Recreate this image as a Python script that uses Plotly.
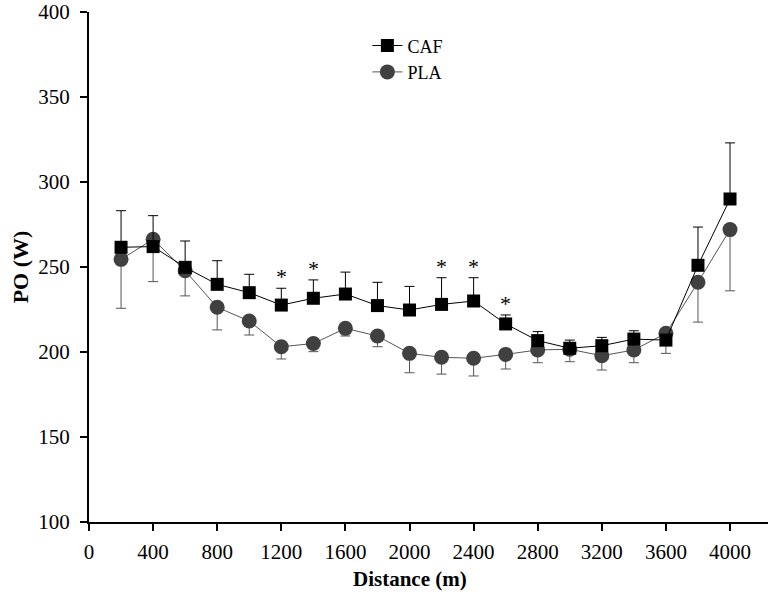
import plotly.graph_objects as go

distance = [200, 400, 600, 800, 1000, 1200, 1400, 1600, 1800, 2000,
            2200, 2400, 2600, 2800, 3000, 3200, 3400, 3600, 3800, 4000]
caf = [261.6, 262, 249.8, 239.8, 234.9, 227.6, 231.6, 234.1, 227.3, 224.7,
       228, 230, 216.5, 206.7, 202.2, 203.7, 207.6, 207, 251, 290]
caf_err = [21.5, 18.2, 15.5, 13.9, 10.8, 9.9, 10.8, 12.9, 13.7, 13.9,
           15.7, 13.7, 5.3, 5.3, 4.8, 4.9, 4.9, 3, 22.5, 33]
pla = [254.5, 266.3, 247.8, 226.3, 218.2, 203.1, 205, 213.9, 209.4, 199.2,
       196.9, 196.3, 198.6, 201.2, 201.6, 197.8, 201.2, 211, 241, 272]
pla_err = [28.8, 24.9, 14.8, 13.3, 8.2, 7.2, 4.8, 4.5, 6.3, 11.4,
           9.9, 10.4, 8.6, 7.5, 7.3, 8.4, 7.5, 11.8, 23.4, 36]
sig_dist = [1200, 1400, 2200, 2400, 2600]

x_ticks = [0, 400, 800, 1200, 1600, 2000, 2400, 2800, 3200, 3600, 4000]
y_ticks = [100, 150, 200, 250, 300, 350, 400]

FONT = "Liberation Serif"

fig = go.Figure()
fig.add_trace(go.Scatter(
    x=distance, y=pla, name="PLA", mode="lines+markers",
    line=dict(color="#555555", width=1),
    marker=dict(symbol="circle", size=15, color="#404040"),
    error_y=dict(type="data", symmetric=False, array=[0] * len(pla_err),
                 arrayminus=pla_err, color="#555555", thickness=1, width=5),
))
fig.add_trace(go.Scatter(
    x=distance, y=caf, name="CAF", mode="lines+markers",
    line=dict(color="black", width=1),
    marker=dict(symbol="square", size=13, color="black"),
    error_y=dict(type="data", symmetric=False, array=caf_err,
                 arrayminus=[0] * len(caf_err), color="black", thickness=1, width=5),
))

for d in sig_dist:
    i = distance.index(d)
    fig.add_annotation(x=d, y=caf[i] + caf_err[i], text="*", showarrow=False,
                       yanchor="bottom", yshift=-3,
                       font=dict(family=FONT, size=22, color="black"))

fig.add_annotation(x=2000, xref="x", y=-0.112, yref="paper", yanchor="middle",
                   text="<b>Distance (m)</b>", showarrow=False,
                   font=dict(family=FONT, size=21, color="black"))

fig.update_layout(
    width=768, height=610,
    margin=dict(l=89, r=0, t=12, b=88),
    plot_bgcolor="white", paper_bgcolor="white",
    font=dict(family=FONT, size=21, color="black"),
    showlegend=True,
    legend=dict(x=0.41, y=0.97, xanchor="left", yanchor="top",
                traceorder="reversed", bgcolor="rgba(0,0,0,0)",
                font=dict(family=FONT, size=18), tracegroupgap=0),
    xaxis=dict(range=[0, 4237], tickvals=x_ticks, showline=True, linecolor="black",
               linewidth=2, ticks="outside", ticklen=7, tickwidth=2, tickcolor="black",
               showgrid=False, zeroline=False, automargin=False,
               ticklabelstandoff=3, ticklabeloverflow="allow",
               tickfont=dict(family=FONT, size=21)),
    yaxis=dict(range=[100, 400], tickvals=y_ticks, showline=True, linecolor="black",
               linewidth=2, ticks="outside", ticklen=7, tickwidth=2, tickcolor="black",
               showgrid=False, zeroline=False, automargin=False,
               ticklabelstandoff=6, ticklabeloverflow="allow",
               title=dict(text="<b>PO (W)</b>", font=dict(family=FONT, size=22), standoff=4),
               tickfont=dict(family=FONT, size=21)),
)

fig.write_html("out.html", config={"displayModeBar": False},
               post_script="document.body.style.margin='0';")
